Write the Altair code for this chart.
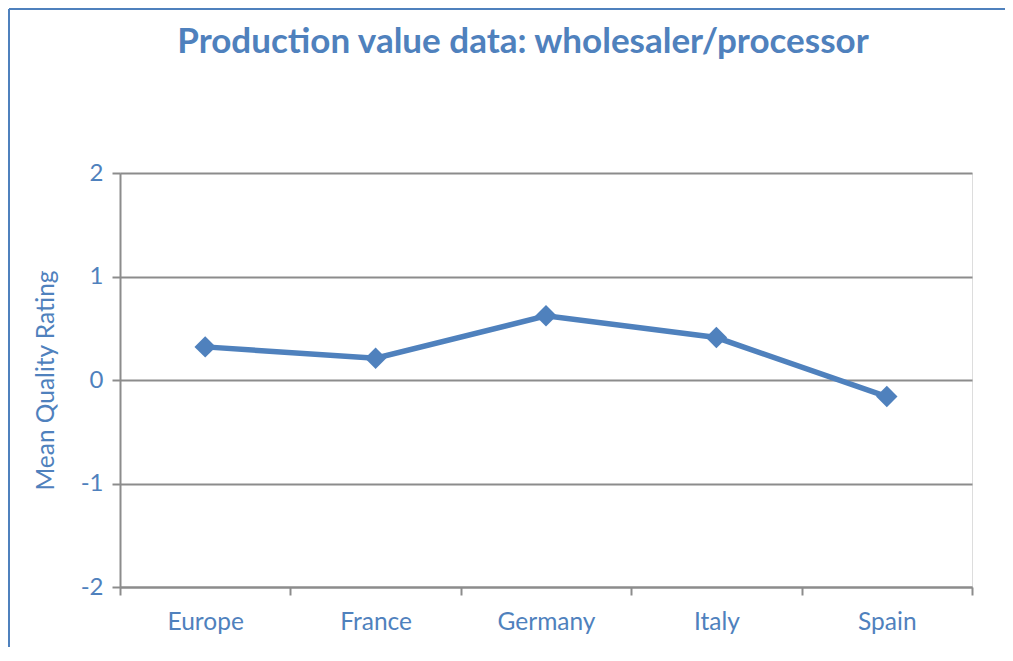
import altair as alt
import pandas as pd

regions = ["Europe", "France", "Germany", "Italy", "Spain"]
ratings = [0.32, 0.21, 0.62, 0.41, -0.16]
y_ticks = [-2, -1, 0, 1, 2]
title_text = ["Production value data: wholesaler/processor"]

df = pd.DataFrame({"region": regions, "rating": ratings})
tdf = pd.DataFrame({"t": title_text})

BLUE = "#4F81BD"
GRAY = "#8C8C8C"
FONT = "Lato"

W, H = 852, 414

x_enc = alt.X("region:N", sort=regions, title=None,
              scale=alt.Scale(paddingInner=0, paddingOuter=0),
              axis=alt.Axis(tickBand="extent", labelAngle=0, labelFont=FONT, labelFontSize=24.5,
                            labelColor=BLUE, labelPadding=15, tickColor=GRAY, tickSize=8,
                            tickWidth=2, domainColor=GRAY, domainWidth=2, grid=False))
y_enc = alt.Y("rating:Q", title="Mean Quality Rating",
              scale=alt.Scale(domain=[-2, 2], nice=False),
              axis=alt.Axis(values=y_ticks, labelExpr="datum.value + ''", labelFont=FONT,
                            labelFontSize=24, labelColor=BLUE, labelPadding=9, tickColor=GRAY,
                            tickSize=8, tickWidth=2, domainColor=GRAY, domainWidth=2,
                            gridColor=GRAY, gridWidth=2, titleFont=FONT, titleFontSize=24.5,
                            titleFontWeight="normal", titleColor=BLUE, titlePadding=22))

base = alt.Chart(df)
line = base.mark_line(color=BLUE, strokeWidth=5.5).encode(x=x_enc, y=y_enc)
pts = base.mark_point(shape="diamond", filled=True, opacity=1, color=BLUE, size=460).encode(
    x=alt.X("region:N", sort=regions), y="rating:Q")

frame_left = alt.Chart(tdf).mark_rule(color=BLUE, strokeWidth=2).encode(
    x=alt.value(-111), y=alt.value(-164), y2=alt.value(H + 70))
frame_top = alt.Chart(tdf).mark_rule(color=BLUE, strokeWidth=2).encode(
    x=alt.value(-111), x2=alt.value(W + 33), y=alt.value(-164))

title = alt.Chart(tdf).mark_text(font=FONT, fontSize=35, fontWeight="bold", color=BLUE,
                                 align="center", baseline="alphabetic").encode(
    x=alt.value(403), y=alt.value(-120), text="t:N")

chart = alt.layer(frame_left, frame_top, title, line, pts).properties(
    width=W, height=H,
    padding={"left": 112, "top": 165, "right": 33, "bottom": 60},
    autosize=alt.AutoSizeParams(type="none"),
).configure_view(stroke=None).configure(background="white")

chart.save("out.html", embed_options={"renderer": "svg", "actions": False})
